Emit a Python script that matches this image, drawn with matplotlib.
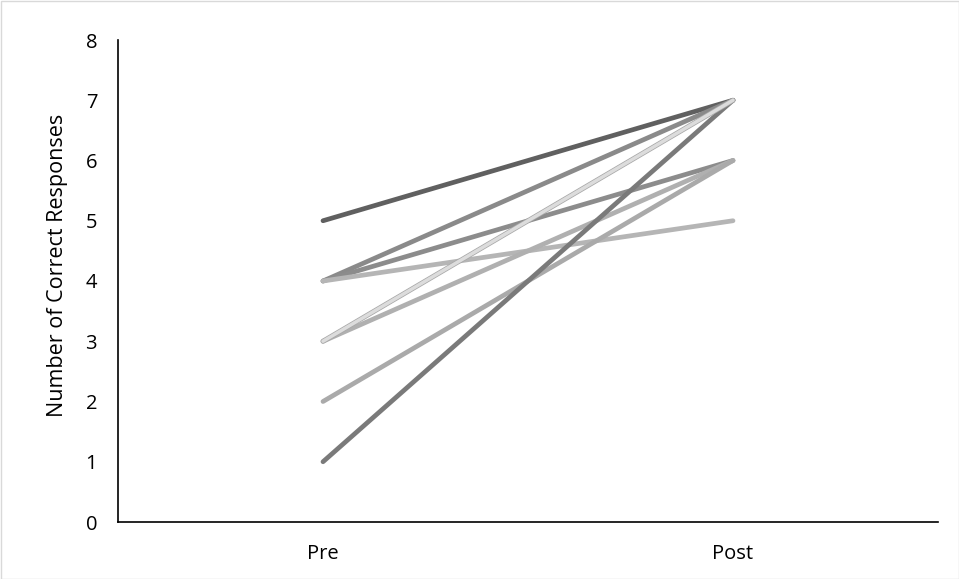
import matplotlib
matplotlib.use("Agg")
import matplotlib.pyplot as plt
from matplotlib.patches import Rectangle

categories = ["Pre", "Post"]
pre_values = [5, 4, 4, 4, 3, 2, 1, 3]
post_values = [7, 7, 6, 5, 6, 6, 7, 7]
line_colors = ["#606060", "#8a8a8a", "#8c8c8c", "#b5b5b5", "#b0b0b0", "#aaaaaa", "#7a7a7a", "#dcdcdc"]
y_ticks = [0, 1, 2, 3, 4, 5, 6, 7, 8]

plt.rcParams['font.family'] = ['Open Sans', 'DejaVu Sans']

fig = plt.figure(figsize=(9.59, 5.79), dpi=100)
ax = fig.add_axes([118/959, 1 - 522/579, (938-118)/959, (522-40)/579])

x = list(range(len(categories)))
for i, (a, b) in enumerate(zip(pre_values, post_values)):
    c = line_colors[i]
    if i == len(pre_values) - 1:
        ax.plot(x, [a, b], color="#a8a8a8", lw=3.6, solid_capstyle='round', zorder=2 + i)
        ax.plot(x, [a, b], color=c, lw=2.5, solid_capstyle='round', zorder=2 + i)
    else:
        ax.plot(x, [a, b], color=c, lw=3.4, solid_capstyle='round', zorder=2 + i)

ax.set_xlim(-0.5, 1.5)
ax.set_ylim(0, 8)
ax.set_yticks(y_ticks)
ax.set_xticks(x)
ax.set_xticklabels(categories)
ax.tick_params(axis='both', length=0, labelsize=14.5, colors="#000000")
ax.tick_params(axis='y', pad=15)
ax.tick_params(axis='x', pad=16)
for s in ['top', 'right']:
    ax.spines[s].set_visible(False)
ax.spines['left'].set_color('#000000')
ax.spines['bottom'].set_color('#000000')
ax.spines['left'].set_linewidth(1.2)
ax.spines['bottom'].set_linewidth(1.2)
fig.text(58/959, 1 - 265/579, "Number of Correct Responses", fontsize=15.5,
         rotation=90, ha='center', va='center')

fig.patches.append(Rectangle((0.5/959, 0.5/579), 1 - 1/959, 1 - 1/579, transform=fig.transFigure,
                             fill=False, edgecolor="#d9d9d9", lw=1))

fig.savefig("out.png", dpi=100)
